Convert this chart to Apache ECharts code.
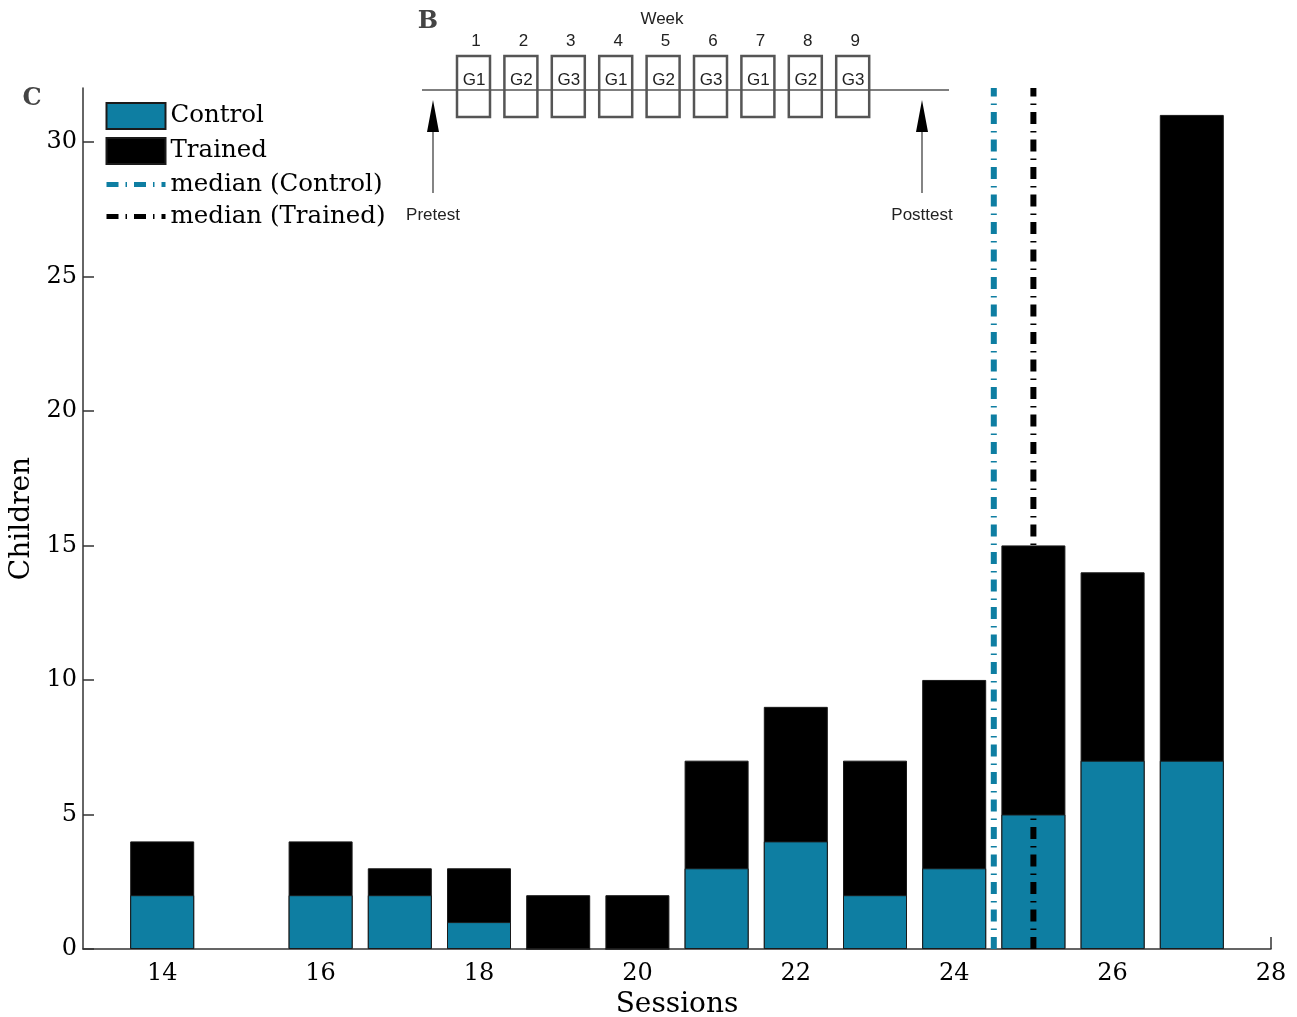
<!DOCTYPE html>
<html>
<head>
<meta charset="utf-8">
<script src="https://cdn.jsdelivr.net/npm/echarts@6/dist/echarts.min.js"></script>
<style>
  html, body { margin: 0; padding: 0; background: #fff; }
  #chart { width: 1297px; height: 1017px; }
</style>
</head>
<body>
<div id="chart"></div>
<script>
// sessions completed per child, split by group
const sessions = [14, 16, 17, 18, 19, 20, 21, 22, 23, 24, 25, 26, 27];
const controlCounts = [2, 2, 2, 1, 0, 0, 3, 4, 2, 3, 5, 7, 7];
const trainedCounts = [2, 2, 1, 2, 2, 2, 4, 5, 5, 7, 10, 7, 24];
const medianControl = 24.5;
const medianTrained = 25;
const xTicks = [14, 16, 18, 20, 22, 24, 26, 28];
const yTicks = [0, 5, 10, 15, 20, 25, 30];

// inset B: weekly schedule
const weeks = [1, 2, 3, 4, 5, 6, 7, 8, 9];
const weekGroups = ['G1', 'G2', 'G3', 'G1', 'G2', 'G3', 'G1', 'G2', 'G3'];

const CONTROL = '#0e7ea2';
const SERIF = '"DejaVu Serif", serif';
const SANS = '"Liberation Sans", Arial, sans-serif';

const chart = echarts.init(document.getElementById('chart'));

// schematic drawn as graphic elements
const inset = [];
inset.push({ type: 'text', style: { x: 428, y: 22, text: 'B', font: 'bold 24px ' + SERIF, fill: '#444', align: 'center', verticalAlign: 'middle' } });
inset.push({ type: 'text', style: { x: 32, y: 99, text: 'C', font: 'bold 24px ' + SERIF, fill: '#444', align: 'center', verticalAlign: 'middle' } });
inset.push({ type: 'text', style: { x: 662, y: 19, text: 'Week', font: '17px ' + SANS, fill: '#222', align: 'center', verticalAlign: 'middle' } });
inset.push({ type: 'line', shape: { x1: 422, y1: 90, x2: 949, y2: 90 }, style: { stroke: '#555', lineWidth: 1.5 } });
weeks.forEach((w, i) => {
  const x0 = 457 + i * 47.4;
  inset.push({ type: 'rect', shape: { x: x0, y: 56, width: 33, height: 61 }, style: { fill: 'none', stroke: '#555', lineWidth: 2.5 } });
  inset.push({ type: 'text', style: { x: x0 + 17, y: 80, text: weekGroups[i], font: '17px ' + SANS, fill: '#222', align: 'center', verticalAlign: 'middle' } });
  inset.push({ type: 'text', style: { x: x0 + 19, y: 41, text: String(w), font: '17px ' + SANS, fill: '#222', align: 'center', verticalAlign: 'middle' } });
});
[[433, 'Pretest'], [922, 'Posttest']].forEach(([x, label]) => {
  inset.push({ type: 'line', shape: { x1: x, y1: 193, x2: x, y2: 125 }, style: { stroke: '#333', lineWidth: 1.2 } });
  inset.push({ type: 'polygon', shape: { points: [[x, 100], [x - 6, 132], [x + 6, 132]] }, style: { fill: '#000' } });
  inset.push({ type: 'text', style: { x: x, y: 215, text: label, font: '17px ' + SANS, fill: '#222', align: 'center', verticalAlign: 'middle' } });
});

const dash = [12, 7, 1.5, 7];

chart.setOption({
  animation: false,
  grid: { left: 83, right: 26, top: 88, bottom: 68, outerBoundsMode: 'none', containLabel: false },
  legend: {
    orient: 'vertical',
    left: 104,
    top: 102,
    itemWidth: 59,
    itemHeight: 26,
    itemGap: 7,
    padding: 0,
    textStyle: { fontFamily: SERIF, fontSize: 24.5, color: '#000', padding: [5, 0, 0, 0] },
    data: [
      { name: 'Control', icon: 'rect' },
      { name: 'Trained', icon: 'rect' },
      { name: 'median (Control)', icon: 'line', itemStyle: { color: CONTROL, borderColor: CONTROL, borderWidth: 5, borderType: dash } },
      { name: 'median (Trained)', icon: 'line', itemStyle: { color: '#000', borderColor: '#000', borderWidth: 5, borderType: dash } }
    ]
  },
  xAxis: {
    type: 'value',
    min: 13,
    max: 28,
    name: 'Sessions',
    nameLocation: 'middle',
    nameGap: 37,
    nameTextStyle: { fontFamily: SERIF, fontSize: 28, color: '#000' },
    splitLine: { show: false },
    axisLine: { lineStyle: { color: '#333', width: 1.5 } },
    axisTick: { inside: true, length: 12, customValues: xTicks, lineStyle: { color: '#333', width: 1.5 } },
    axisLabel: { customValues: xTicks, margin: 13, fontFamily: SERIF, fontSize: 24, color: '#000' }
  },
  yAxis: {
    type: 'value',
    min: 0,
    max: 32,
    name: 'Children',
    nameLocation: 'middle',
    nameGap: 45,
    nameTextStyle: { fontFamily: SERIF, fontSize: 28, color: '#000' },
    splitLine: { show: false },
    axisLine: { show: true, lineStyle: { color: '#333', width: 1.5 } },
    axisTick: { inside: true, length: 11, customValues: yTicks, lineStyle: { color: '#333', width: 1.5 } },
    axisLabel: { customValues: yTicks, margin: 6, fontFamily: SERIF, fontSize: 24, color: '#000' }
  },
  series: [{
    // full bar height = control + trained; the control part is overlaid below
    name: 'Trained',
    type: 'bar',
    barWidth: 64,
    barGap: '-100%',
    itemStyle: { color: '#000', borderColor: '#1a1a1a', borderWidth: 1 },
    data: sessions.map((s, i) => [s, controlCounts[i] + trainedCounts[i]])
  }, {
    name: 'Control',
    type: 'bar',
    barWidth: 64,
    barGap: '-100%',
    itemStyle: { color: CONTROL, borderColor: '#1a1a1a', borderWidth: 1 },
    data: sessions.map((s, i) => [s, controlCounts[i]])
  }, {
    name: 'median (Control)',
    type: 'line',
    symbol: 'none',
    z: 5,
    color: CONTROL,
    lineStyle: { color: CONTROL, width: 6, type: dash },
    data: [[medianControl, 0], [medianControl, 32]]
  }, {
    name: 'median (Trained)',
    type: 'line',
    symbol: 'none',
    z: 5,
    color: '#000',
    lineStyle: { color: '#000', width: 6, type: dash },
    data: [[medianTrained, 0], [medianTrained, 32]]
  }],
  graphic: inset
});
</script>
</body>
</html>
